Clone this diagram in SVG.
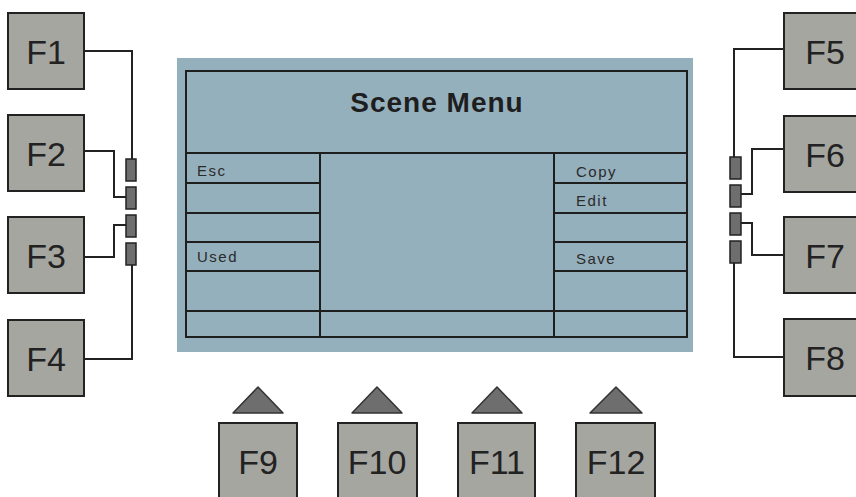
<svg xmlns="http://www.w3.org/2000/svg" width="856" height="497" viewBox="0 0 856 497">
<style>
.key{fill:#a6a6a1;stroke:#222;stroke-width:2}
.kt{font-family:"Liberation Sans",Arial,sans-serif;font-size:34px;fill:#222;text-anchor:middle}
.led{fill:#6e6e6e;stroke:#222;stroke-width:1.5}
.wire{fill:none;stroke:#222;stroke-width:2}
.grid{fill:none;stroke:#1e1e1e;stroke-width:2}
.lbl{font-family:"Liberation Sans",Arial,sans-serif;font-size:15px;fill:#2a2a2a;letter-spacing:1.5px}
.tri{fill:#6e6e6e;stroke:#333;stroke-width:1.5;stroke-linejoin:round}
</style>
<rect width="856" height="497" fill="#fff"/>
<g id="lcd">
<rect x="177" y="58" width="516" height="294" fill="#95b0bd"/>
<rect class="grid" x="186" y="71" width="501" height="266"/>
<path class="grid" d="M186 153H687M320 153V337M554 153V337M186 311H687M186 183H320M186 213H320M186 242H320M186 271H320M554 183H687M554 213H687M554 242H687M554 271H687"/>
<text x="437" y="112" font-family="'Liberation Sans',Arial,sans-serif" font-size="28" font-weight="bold" fill="#1e1e1e" text-anchor="middle" letter-spacing="1">Scene Menu</text>
<text class="lbl" x="197" y="176">Esc</text>
<text class="lbl" x="197" y="262">Used</text>
<text class="lbl" x="576" y="177">Copy</text>
<text class="lbl" x="576" y="206">Edit</text>
<text class="lbl" x="576" y="264">Save</text>
</g>
<g id="connectors">
<path class="wire" d="M84 51H132V159"/>
<path class="wire" d="M84 151H114V197H126"/>
<path class="wire" d="M84 257H114V225H126"/>
<path class="wire" d="M84 359H132V265"/>
<path class="wire" d="M784 49H734V157"/>
<path class="wire" d="M784 149H752V194H741"/>
<path class="wire" d="M741 223H752V255H784"/>
<path class="wire" d="M784 357H734V263"/>
</g>
<g id="leds">
<rect class="led" x="126" y="159" width="10" height="22"/>
<rect class="led" x="126" y="187" width="10" height="22"/>
<rect class="led" x="126" y="215" width="10" height="22"/>
<rect class="led" x="126" y="243" width="10" height="22"/>
<rect class="led" x="730" y="157" width="11" height="22"/>
<rect class="led" x="730" y="185" width="11" height="22"/>
<rect class="led" x="730" y="213" width="11" height="22"/>
<rect class="led" x="730" y="241" width="11" height="22"/>
</g>
<g id="F1"><rect class="key" x="8" y="13" width="76" height="76"/><text class="kt" x="46" y="64">F1</text></g>
<g id="F2"><rect class="key" x="8" y="115" width="76" height="76"/><text class="kt" x="46" y="166">F2</text></g>
<g id="F3"><rect class="key" x="8" y="217" width="76" height="76"/><text class="kt" x="46" y="268">F3</text></g>
<g id="F4"><rect class="key" x="8" y="320" width="76" height="76"/><text class="kt" x="46" y="371">F4</text></g>
<g id="F5"><rect class="key" x="784" y="13" width="80" height="76"/><text class="kt" x="825" y="64">F5</text></g>
<g id="F6"><rect class="key" x="784" y="116" width="80" height="76"/><text class="kt" x="825" y="167">F6</text></g>
<g id="F7"><rect class="key" x="784" y="217" width="80" height="76"/><text class="kt" x="825" y="268">F7</text></g>
<g id="F8"><rect class="key" x="784" y="319" width="80" height="77"/><text class="kt" x="825" y="370">F8</text></g>
<g id="F9"><path class="tri" d="M233 413L258 387L283 413Z"/><rect class="key" x="219" y="423" width="78" height="80"/><text class="kt" x="258" y="474">F9</text></g>
<g id="F10"><path class="tri" d="M352 413L377 387L402 413Z"/><rect class="key" x="338" y="423" width="79" height="80"/><text class="kt" x="377" y="474">F10</text></g>
<g id="F11"><path class="tri" d="M472 413L497 387L522 413Z"/><rect class="key" x="458" y="423" width="77" height="80"/><text class="kt" x="497" y="474">F11</text></g>
<g id="F12"><path class="tri" d="M590 413L616 387L642 413Z"/><rect class="key" x="576" y="423" width="79" height="80"/><text class="kt" x="616" y="474">F12</text></g>
</svg>
